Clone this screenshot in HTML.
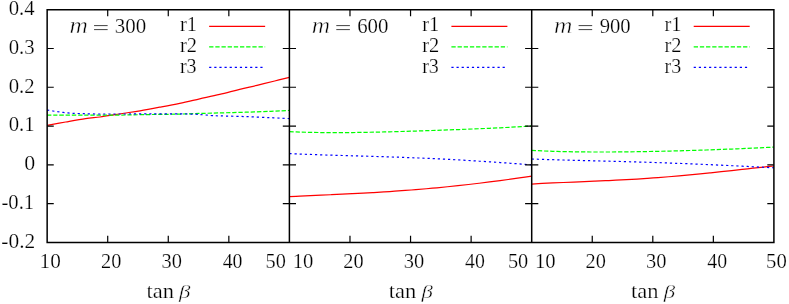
<!DOCTYPE html>
<html><head><meta charset="utf-8"><title>plot</title>
<style>html,body{margin:0;padding:0;background:#fff;}body{width:789px;height:304px;overflow:hidden;position:relative;font-family:"Liberation Serif",serif;}</style>
</head><body>
<svg width="789" height="304" viewBox="0 0 789 304" style="position:absolute;left:0;top:0;will-change:transform">
<rect x="0" y="0" width="789" height="304" fill="#fff"/>
<path d="M47.15,125.45 C50.24,124.88 59.31,123.14 65.70,122.00 C72.09,120.86 79.78,119.43 85.50,118.60 C91.22,117.77 95.08,117.65 100.00,117.00 C104.92,116.35 111.00,115.33 115.00,114.70 C119.00,114.08 119.83,113.90 124.00,113.25 C128.17,112.60 134.05,111.81 140.00,110.80 C145.95,109.79 153.08,108.45 159.70,107.20 C166.32,105.95 173.03,104.70 179.70,103.30 C186.37,101.90 193.03,100.30 199.70,98.80 C206.37,97.30 213.03,95.88 219.70,94.30 C226.37,92.72 233.48,90.80 239.70,89.30 C245.92,87.80 251.17,86.68 257.00,85.30 C262.83,83.92 269.30,82.33 274.70,81.00 C280.10,79.67 286.95,77.92 289.40,77.30" fill="none" stroke="#ff0000" stroke-width="1.2"/>
<path d="M47.15,115.10 C53.46,115.10 72.86,115.11 85.00,115.10 C97.14,115.09 110.83,115.12 120.00,115.05 C129.17,114.98 133.33,114.81 140.00,114.70 C146.67,114.59 153.33,114.50 160.00,114.40 C166.67,114.30 174.17,114.23 180.00,114.10 C185.83,113.97 188.28,113.80 195.00,113.60 C201.72,113.40 211.85,113.13 220.30,112.90 C228.75,112.67 237.25,112.47 245.70,112.20 C254.15,111.93 263.72,111.60 271.00,111.30 C278.28,111.00 286.33,110.55 289.40,110.40" fill="none" stroke="#00ff00" stroke-width="1.2" stroke-dasharray="4.3 1.87"/>
<path d="M47.15,110.00 C48.11,110.17 51.12,110.71 52.90,111.00 C54.67,111.29 56.10,111.52 57.80,111.75 C59.50,111.98 61.40,112.21 63.10,112.40 C64.80,112.59 66.35,112.75 68.00,112.90 C69.65,113.05 71.30,113.20 73.00,113.30 C74.70,113.40 76.45,113.43 78.20,113.50 C79.95,113.57 81.77,113.63 83.50,113.70 C85.23,113.77 86.05,113.85 88.60,113.90 C91.15,113.95 95.40,113.98 98.80,114.00 C102.20,114.02 104.97,114.00 109.00,114.00 C113.03,114.00 116.17,114.02 123.00,114.00 C129.83,113.98 140.50,113.92 150.00,113.90 C159.50,113.88 172.50,113.85 180.00,113.90 C187.50,113.95 191.10,114.05 195.00,114.20 C198.90,114.35 200.57,114.57 203.40,114.80 C206.23,115.03 209.18,115.42 212.00,115.60 C214.82,115.78 214.68,115.73 220.30,115.90 C225.92,116.07 237.25,116.30 245.70,116.60 C254.15,116.90 263.72,117.37 271.00,117.70 C278.28,118.03 286.33,118.45 289.40,118.60" fill="none" stroke="#0000ff" stroke-width="1.2" stroke-dasharray="2.2 2.92"/>
<path d="M289.40,196.66 C291.16,196.57 296.42,196.32 299.93,196.15 C303.45,195.99 306.96,195.83 310.47,195.67 C313.98,195.51 317.49,195.35 321.00,195.19 C324.52,195.03 328.03,194.88 331.54,194.71 C335.05,194.55 338.56,194.39 342.07,194.22 C345.59,194.05 349.10,193.88 352.61,193.70 C356.12,193.52 359.63,193.34 363.14,193.15 C366.66,192.95 370.17,192.76 373.68,192.55 C377.19,192.35 380.70,192.13 384.21,191.91 C387.72,191.68 391.24,191.45 394.75,191.21 C398.26,190.97 401.77,190.72 405.28,190.45 C408.79,190.19 412.31,189.92 415.82,189.63 C419.33,189.35 422.84,189.05 426.35,188.74 C429.86,188.43 433.38,188.12 436.89,187.78 C440.40,187.45 443.91,187.11 447.42,186.76 C450.93,186.40 454.44,186.03 457.96,185.66 C461.47,185.28 464.98,184.89 468.49,184.49 C472.00,184.08 475.51,183.67 479.03,183.25 C482.54,182.82 486.05,182.39 489.56,181.94 C493.07,181.50 496.58,181.04 500.10,180.58 C503.61,180.11 507.12,179.63 510.63,179.15 C514.14,178.67 517.65,178.17 521.17,177.67 C524.68,177.17 529.94,176.40 531.70,176.15" fill="none" stroke="#ff0000" stroke-width="1.2"/>
<path d="M289.40,131.60 C291.16,131.68 296.42,131.93 299.93,132.06 C303.45,132.18 306.96,132.28 310.47,132.37 C313.98,132.45 317.49,132.51 321.00,132.55 C324.52,132.60 328.03,132.62 331.54,132.63 C335.05,132.64 338.56,132.64 342.07,132.62 C345.59,132.60 349.10,132.57 352.61,132.53 C356.12,132.49 359.63,132.44 363.14,132.38 C366.66,132.32 370.17,132.25 373.68,132.18 C377.19,132.11 380.70,132.02 384.21,131.94 C387.72,131.85 391.24,131.76 394.75,131.66 C398.26,131.56 401.77,131.46 405.28,131.36 C408.79,131.26 412.31,131.15 415.82,131.04 C419.33,130.93 422.84,130.81 426.35,130.70 C429.86,130.58 433.38,130.46 436.89,130.34 C440.40,130.22 443.91,130.10 447.42,129.97 C450.93,129.84 454.44,129.71 457.96,129.58 C461.47,129.45 464.98,129.31 468.49,129.17 C472.00,129.03 475.51,128.89 479.03,128.74 C482.54,128.60 486.05,128.44 489.56,128.28 C493.07,128.12 496.58,127.96 500.10,127.79 C503.61,127.61 507.12,127.43 510.63,127.24 C514.14,127.05 517.65,126.85 521.17,126.64 C524.68,126.43 529.94,126.08 531.70,125.97" fill="none" stroke="#00ff00" stroke-width="1.2" stroke-dasharray="4.3 1.87"/>
<path d="M289.40,153.55 C291.16,153.64 296.42,153.89 299.93,154.04 C303.45,154.19 306.96,154.33 310.47,154.46 C313.98,154.60 317.49,154.72 321.00,154.84 C324.52,154.96 328.03,155.07 331.54,155.18 C335.05,155.29 338.56,155.39 342.07,155.50 C345.59,155.60 349.10,155.70 352.61,155.80 C356.12,155.91 359.63,156.01 363.14,156.11 C366.66,156.21 370.17,156.31 373.68,156.42 C377.19,156.52 380.70,156.63 384.21,156.74 C387.72,156.86 391.24,156.97 394.75,157.09 C398.26,157.21 401.77,157.33 405.28,157.46 C408.79,157.59 412.31,157.73 415.82,157.87 C419.33,158.01 422.84,158.16 426.35,158.31 C429.86,158.47 433.38,158.63 436.89,158.79 C440.40,158.96 443.91,159.13 447.42,159.31 C450.93,159.49 454.44,159.68 457.96,159.88 C461.47,160.07 464.98,160.27 468.49,160.48 C472.00,160.69 475.51,160.91 479.03,161.13 C482.54,161.35 486.05,161.58 489.56,161.81 C493.07,162.04 496.58,162.28 500.10,162.53 C503.61,162.77 507.12,163.02 510.63,163.28 C514.14,163.53 517.65,163.79 521.17,164.06 C524.68,164.32 529.94,164.72 531.70,164.85" fill="none" stroke="#0000ff" stroke-width="1.2" stroke-dasharray="2.2 2.92"/>
<path d="M531.70,184.03 C533.46,183.93 538.72,183.63 542.23,183.45 C545.74,183.27 549.25,183.10 552.76,182.94 C556.27,182.78 559.78,182.63 563.29,182.48 C566.80,182.33 570.31,182.19 573.82,182.05 C577.33,181.90 580.84,181.76 584.35,181.62 C587.86,181.48 591.37,181.33 594.88,181.18 C598.39,181.03 601.90,180.88 605.41,180.72 C608.92,180.55 612.43,180.39 615.94,180.21 C619.45,180.03 622.96,179.85 626.47,179.65 C629.98,179.45 633.49,179.25 637.00,179.03 C640.51,178.81 644.02,178.58 647.53,178.35 C651.04,178.11 654.56,177.85 658.07,177.59 C661.58,177.33 665.09,177.05 668.60,176.76 C672.11,176.48 675.62,176.18 679.13,175.87 C682.64,175.56 686.15,175.24 689.66,174.91 C693.17,174.58 696.68,174.23 700.19,173.88 C703.70,173.53 707.21,173.17 710.72,172.81 C714.23,172.44 717.74,172.07 721.25,171.69 C724.76,171.31 728.27,170.93 731.78,170.54 C735.29,170.16 738.80,169.77 742.31,169.38 C745.82,168.99 749.33,168.61 752.84,168.22 C756.35,167.84 759.86,167.46 763.37,167.09 C766.88,166.72 772.14,166.18 773.90,166.00" fill="none" stroke="#ff0000" stroke-width="1.2"/>
<path d="M531.70,150.39 C533.46,150.48 538.72,150.75 542.23,150.90 C545.74,151.05 549.25,151.18 552.76,151.30 C556.27,151.41 559.78,151.51 563.29,151.60 C566.80,151.68 570.31,151.75 573.82,151.81 C577.33,151.87 580.84,151.91 584.35,151.94 C587.86,151.98 591.37,152.00 594.88,152.01 C598.39,152.02 601.90,152.02 605.41,152.01 C608.92,152.01 612.43,151.99 615.94,151.96 C619.45,151.94 622.96,151.90 626.47,151.86 C629.98,151.82 633.49,151.78 637.00,151.72 C640.51,151.67 644.02,151.61 647.53,151.54 C651.04,151.48 654.56,151.40 658.07,151.33 C661.58,151.25 665.09,151.17 668.60,151.08 C672.11,150.99 675.62,150.90 679.13,150.81 C682.64,150.71 686.15,150.61 689.66,150.51 C693.17,150.40 696.68,150.29 700.19,150.18 C703.70,150.07 707.21,149.95 710.72,149.83 C714.23,149.71 717.74,149.58 721.25,149.45 C724.76,149.32 728.27,149.18 731.78,149.04 C735.29,148.90 738.80,148.76 742.31,148.61 C745.82,148.46 749.33,148.30 752.84,148.14 C756.35,147.98 759.86,147.81 763.37,147.64 C766.88,147.46 772.14,147.19 773.90,147.09" fill="none" stroke="#00ff00" stroke-width="1.2" stroke-dasharray="4.3 1.87"/>
<path d="M531.70,158.99 C533.46,159.05 538.72,159.25 542.23,159.37 C545.74,159.49 549.25,159.60 552.76,159.71 C556.27,159.82 559.78,159.92 563.29,160.02 C566.80,160.12 570.31,160.21 573.82,160.30 C577.33,160.40 580.84,160.49 584.35,160.58 C587.86,160.67 591.37,160.76 594.88,160.84 C598.39,160.93 601.90,161.02 605.41,161.11 C608.92,161.20 612.43,161.29 615.94,161.39 C619.45,161.48 622.96,161.57 626.47,161.67 C629.98,161.77 633.49,161.87 637.00,161.97 C640.51,162.08 644.02,162.18 647.53,162.29 C651.04,162.40 654.56,162.52 658.07,162.63 C661.58,162.75 665.09,162.87 668.60,163.00 C672.11,163.13 675.62,163.26 679.13,163.39 C682.64,163.52 686.15,163.66 689.66,163.80 C693.17,163.95 696.68,164.09 700.19,164.24 C703.70,164.39 707.21,164.55 710.72,164.71 C714.23,164.86 717.74,165.02 721.25,165.19 C724.76,165.35 728.27,165.52 731.78,165.69 C735.29,165.86 738.80,166.03 742.31,166.21 C745.82,166.38 749.33,166.56 752.84,166.73 C756.35,166.91 759.86,167.09 763.37,167.26 C766.88,167.44 772.14,167.71 773.90,167.79" fill="none" stroke="#0000ff" stroke-width="1.2" stroke-dasharray="2.2 2.92"/>
<path d="M209.15,26.40 L265.15,26.40" fill="none" stroke="#ff0000" stroke-width="1.2"/>
<path d="M209.15,46.90 L265.15,46.90" fill="none" stroke="#00ff00" stroke-width="1.2" stroke-dasharray="4.3 1.87"/>
<path d="M209.15,67.40 L263.65,67.40" fill="none" stroke="#0000ff" stroke-width="1.2" stroke-dasharray="2.2 2.92"/>
<path d="M451.40,26.40 L507.40,26.40" fill="none" stroke="#ff0000" stroke-width="1.2"/>
<path d="M451.40,46.90 L507.40,46.90" fill="none" stroke="#00ff00" stroke-width="1.2" stroke-dasharray="4.3 1.87"/>
<path d="M451.40,67.40 L505.90,67.40" fill="none" stroke="#0000ff" stroke-width="1.2" stroke-dasharray="2.2 2.92"/>
<path d="M693.70,26.40 L749.70,26.40" fill="none" stroke="#ff0000" stroke-width="1.2"/>
<path d="M693.70,46.90 L749.70,46.90" fill="none" stroke="#00ff00" stroke-width="1.2" stroke-dasharray="4.3 1.87"/>
<path d="M693.70,67.40 L748.20,67.40" fill="none" stroke="#0000ff" stroke-width="1.2" stroke-dasharray="2.2 2.92"/>
<path d="M47.15,9.7 L773.9,9.7 L773.9,242.4 L47.15,242.4 Z M289.4,9.7 L289.4,242.4 M531.7,9.7 L531.7,242.4" fill="none" stroke="#000" stroke-width="1.5"/>
<path d="M47.15,48.48 h6.6 M282.79999999999995,48.48 h13.2 M525.1,48.48 h13.2 M773.9,48.48 h-6.6 M47.15,87.27 h6.6 M282.79999999999995,87.27 h13.2 M525.1,87.27 h13.2 M773.9,87.27 h-6.6 M47.15,126.05 h6.6 M282.79999999999995,126.05 h13.2 M525.1,126.05 h13.2 M773.9,126.05 h-6.6 M47.15,164.83 h6.6 M282.79999999999995,164.83 h13.2 M525.1,164.83 h13.2 M773.9,164.83 h-6.6 M47.15,203.62 h6.6 M282.79999999999995,203.62 h13.2 M525.1,203.62 h13.2 M773.9,203.62 h-6.6 M107.71,9.7 v6.6 M107.71,242.4 v-6.6 M168.27,9.7 v6.6 M168.27,242.4 v-6.6 M228.84,9.7 v6.6 M228.84,242.4 v-6.6 M349.98,9.7 v6.6 M349.98,242.4 v-6.6 M410.55,9.7 v6.6 M410.55,242.4 v-6.6 M471.12,9.7 v6.6 M471.12,242.4 v-6.6 M592.25,9.7 v6.6 M592.25,242.4 v-6.6 M652.80,9.7 v6.6 M652.80,242.4 v-6.6 M713.35,9.7 v6.6 M713.35,242.4 v-6.6" fill="none" stroke="#000" stroke-width="1.2"/>
<text transform="translate(8.67,15.10) scale(1.0387,1.0000)" font-family="Liberation Serif" font-size="20" fill="#000" stroke="#fff" stroke-width="0.22">0.4</text>
<text transform="translate(8.67,53.88) scale(1.0384,1.0000)" font-family="Liberation Serif" font-size="20" fill="#000" stroke="#fff" stroke-width="0.22">0.3</text>
<text transform="translate(8.67,92.67) scale(1.0381,1.0000)" font-family="Liberation Serif" font-size="20" fill="#000" stroke="#fff" stroke-width="0.22">0.2</text>
<text transform="translate(8.67,131.45) scale(1.0379,1.0000)" font-family="Liberation Serif" font-size="20" fill="#000" stroke="#fff" stroke-width="0.22">0.1</text>
<text transform="translate(24.13,170.23) scale(1.0941,1.0000)" font-family="Liberation Serif" font-size="20" fill="#000" stroke="#fff" stroke-width="0.22">0</text>
<text transform="translate(1.48,209.02) scale(1.0319,1.0000)" font-family="Liberation Serif" font-size="20" fill="#000" stroke="#fff" stroke-width="0.22">-0.1</text>
<text transform="translate(1.35,247.80) scale(1.0689,1.0000)" font-family="Liberation Serif" font-size="20" fill="#000" stroke="#fff" stroke-width="0.22">-0.2</text>
<text transform="translate(39.59,268.20) scale(1.0629,1.0000)" font-family="Liberation Serif" font-size="20" fill="#000" stroke="#fff" stroke-width="0.22">10</text>
<text transform="translate(101.07,268.20) scale(1.0177,1.0000)" font-family="Liberation Serif" font-size="20" fill="#000" stroke="#fff" stroke-width="0.22">20</text>
<text transform="translate(161.50,268.20) scale(1.0247,1.0000)" font-family="Liberation Serif" font-size="20" fill="#000" stroke="#fff" stroke-width="0.22">30</text>
<text transform="translate(222.72,268.20) scale(0.9907,1.0000)" font-family="Liberation Serif" font-size="20" fill="#000" stroke="#fff" stroke-width="0.22">40</text>
<text transform="translate(265.61,268.20) scale(1.0152,1.0000)" font-family="Liberation Serif" font-size="20" fill="#000" stroke="#fff" stroke-width="0.22">50</text>
<text transform="translate(146.44,298.20) scale(1.1267,1.0889)" font-family="Liberation Serif" font-size="20" fill="#000" stroke="#fff" stroke-width="0.22">tan</text>
<text transform="translate(179.11,298.00) scale(1.1457,0.9735)" font-family="Liberation Serif" font-size="20" fill="#000" stroke="#fff" stroke-width="0.396" font-style="italic">β</text>
<text transform="translate(69.54,33.30) scale(1.2738,1.1040)" font-family="Liberation Serif" font-size="20" fill="#000" stroke="#fff" stroke-width="0.396" font-style="italic">m</text>
<text transform="translate(114.75,33.30) scale(1.0478,1.0000)" font-family="Liberation Serif" font-size="20" fill="#000" stroke="#fff" stroke-width="0.22">300</text>
<path d="M94.05,25.6 h13.6 M94.05,29.6 h13.6" stroke="#111" stroke-width="0.8" fill="none"/>
<text transform="translate(179.92,31.40) scale(1.0248,1.0000)" font-family="Liberation Serif" font-size="20" fill="#000" stroke="#fff" stroke-width="0.22">r1</text>
<text transform="translate(179.92,52.00) scale(1.0248,1.0000)" font-family="Liberation Serif" font-size="20" fill="#000" stroke="#fff" stroke-width="0.22">r2</text>
<text transform="translate(179.93,72.60) scale(1.0000,1.0000)" font-family="Liberation Serif" font-size="20" fill="#000" stroke="#fff" stroke-width="0.22">r3</text>
<text transform="translate(292.64,268.20) scale(1.0343,1.0000)" font-family="Liberation Serif" font-size="20" fill="#000" stroke="#fff" stroke-width="0.22">10</text>
<text transform="translate(343.33,268.20) scale(1.0177,1.0000)" font-family="Liberation Serif" font-size="20" fill="#000" stroke="#fff" stroke-width="0.22">20</text>
<text transform="translate(403.78,268.20) scale(1.0247,1.0000)" font-family="Liberation Serif" font-size="20" fill="#000" stroke="#fff" stroke-width="0.22">30</text>
<text transform="translate(465.00,268.20) scale(0.9907,1.0000)" font-family="Liberation Serif" font-size="20" fill="#000" stroke="#fff" stroke-width="0.22">40</text>
<text transform="translate(507.91,268.20) scale(1.0152,1.0000)" font-family="Liberation Serif" font-size="20" fill="#000" stroke="#fff" stroke-width="0.22">50</text>
<text transform="translate(388.72,298.20) scale(1.1267,1.0889)" font-family="Liberation Serif" font-size="20" fill="#000" stroke="#fff" stroke-width="0.22">tan</text>
<text transform="translate(421.39,298.00) scale(1.1457,0.9735)" font-family="Liberation Serif" font-size="20" fill="#000" stroke="#fff" stroke-width="0.396" font-style="italic">β</text>
<text transform="translate(311.79,33.30) scale(1.2738,1.1040)" font-family="Liberation Serif" font-size="20" fill="#000" stroke="#fff" stroke-width="0.396" font-style="italic">m</text>
<text transform="translate(357.14,33.30) scale(1.0432,1.0000)" font-family="Liberation Serif" font-size="20" fill="#000" stroke="#fff" stroke-width="0.22">600</text>
<path d="M336.30,25.6 h13.6 M336.30,29.6 h13.6" stroke="#111" stroke-width="0.8" fill="none"/>
<text transform="translate(422.17,31.40) scale(1.0248,1.0000)" font-family="Liberation Serif" font-size="20" fill="#000" stroke="#fff" stroke-width="0.22">r1</text>
<text transform="translate(422.17,52.00) scale(1.0248,1.0000)" font-family="Liberation Serif" font-size="20" fill="#000" stroke="#fff" stroke-width="0.22">r2</text>
<text transform="translate(422.17,72.60) scale(1.0000,1.0000)" font-family="Liberation Serif" font-size="20" fill="#000" stroke="#fff" stroke-width="0.22">r3</text>
<text transform="translate(534.94,268.20) scale(1.0343,1.0000)" font-family="Liberation Serif" font-size="20" fill="#000" stroke="#fff" stroke-width="0.22">10</text>
<text transform="translate(585.61,268.20) scale(1.0177,1.0000)" font-family="Liberation Serif" font-size="20" fill="#000" stroke="#fff" stroke-width="0.22">20</text>
<text transform="translate(646.03,268.20) scale(1.0247,1.0000)" font-family="Liberation Serif" font-size="20" fill="#000" stroke="#fff" stroke-width="0.22">30</text>
<text transform="translate(707.23,268.20) scale(0.9907,1.0000)" font-family="Liberation Serif" font-size="20" fill="#000" stroke="#fff" stroke-width="0.22">40</text>
<text transform="translate(766.08,268.20) scale(1.0372,1.0000)" font-family="Liberation Serif" font-size="20" fill="#000" stroke="#fff" stroke-width="0.22">50</text>
<text transform="translate(630.97,298.20) scale(1.1267,1.0889)" font-family="Liberation Serif" font-size="20" fill="#000" stroke="#fff" stroke-width="0.22">tan</text>
<text transform="translate(663.64,298.00) scale(1.1457,0.9735)" font-family="Liberation Serif" font-size="20" fill="#000" stroke="#fff" stroke-width="0.396" font-style="italic">β</text>
<text transform="translate(554.09,33.30) scale(1.2738,1.1040)" font-family="Liberation Serif" font-size="20" fill="#000" stroke="#fff" stroke-width="0.396" font-style="italic">m</text>
<text transform="translate(599.70,33.30) scale(1.0341,1.0000)" font-family="Liberation Serif" font-size="20" fill="#000" stroke="#fff" stroke-width="0.22">900</text>
<path d="M578.60,25.6 h13.6 M578.60,29.6 h13.6" stroke="#111" stroke-width="0.8" fill="none"/>
<text transform="translate(664.47,31.40) scale(1.0248,1.0000)" font-family="Liberation Serif" font-size="20" fill="#000" stroke="#fff" stroke-width="0.22">r1</text>
<text transform="translate(664.47,52.00) scale(1.0248,1.0000)" font-family="Liberation Serif" font-size="20" fill="#000" stroke="#fff" stroke-width="0.22">r2</text>
<text transform="translate(664.48,72.60) scale(1.0000,1.0000)" font-family="Liberation Serif" font-size="20" fill="#000" stroke="#fff" stroke-width="0.22">r3</text>
</svg>
</body></html>
